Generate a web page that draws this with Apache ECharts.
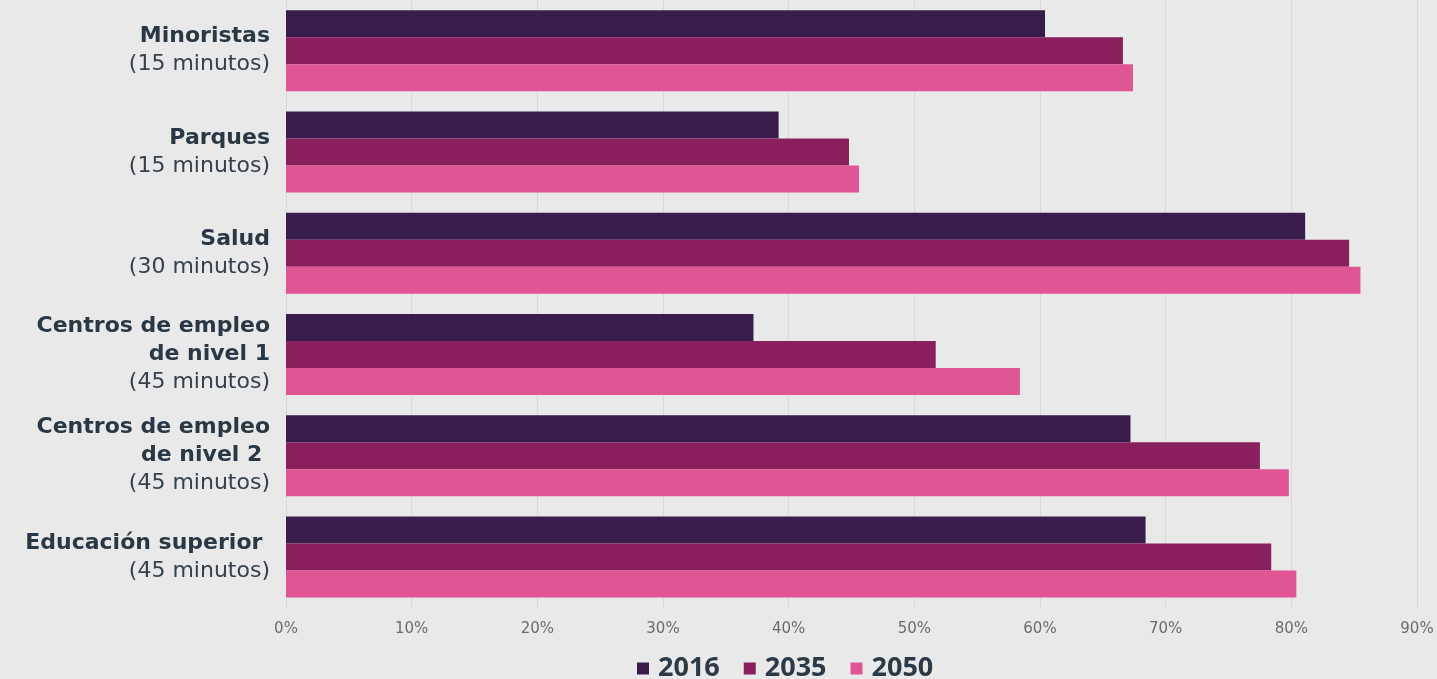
<!DOCTYPE html>
<html>
<head>
<meta charset="utf-8">
<style>
  html, body { margin: 0; padding: 0; background: #e9e9e9; }
  #chart { width: 1437px; height: 679px; }
</style>
<script src="https://cdn.jsdelivr.net/npm/echarts@6/dist/echarts.min.js"></script>
</head>
<body>
<div id="chart"></div>
<script>
// categories (bold title + travel time)
const categoryTitles = ['Minoristas', 'Parques', 'Salud', 'Centros de empleo\nde nivel 1', 'Centros de empleo\nde nivel 2 ', 'Educación superior '];
const categoryTimes = ['(15 minutos)', '(15 minutos)', '(30 minutos)', '(45 minutos)', '(45 minutos)', '(45 minutos)'];

const seriesNames = ['2016', '2035', '2050'];
const values2016 = [60.4, 39.2, 81.1, 37.2, 67.2, 68.4];
const values2035 = [66.6, 44.8, 84.6, 51.7, 77.5, 78.4];
const values2050 = [67.4, 45.6, 85.5, 58.4, 79.8, 80.4];

const MyEcharts = echarts.init(document.getElementById('chart'));

const labels = categoryTitles.map(function (t, i) {
  const bold = t.split('\n').map(function (l) { return '{b|' + l + '}'; }).join('\n');
  return bold + '\n{r|' + categoryTimes[i] + '}';
});

const option = {
  backgroundColor: '#e9e9e9',
  color: ['#381c4b', '#8a1f5e', '#e05695'],
  animation: false,
  grid: {
    left: 286,
    width: 1131,
    top: -2.5,
    height: 610
  },
  legend: {
    left: 632,
    top: 650,
    icon: 'rect',
    itemWidth: 12,
    itemHeight: 12,
    itemGap: 24,
    textStyle: {
      fontFamily: 'Open Sans',
      fontWeight: 'bold',
      fontSize: 27,
      color: '#2c3a48',
      padding: [0, 0, 0, 4]
    },
    data: seriesNames
  },
  xAxis: {
    type: 'value',
    min: 0,
    max: 90,
    interval: 10,
    axisLine: { show: false },
    axisTick: { show: false },
    splitLine: { lineStyle: { color: '#d9d9d9', width: 1 } },
    axisLabel: {
      formatter: '{value}%',
      margin: 14,
      fontFamily: 'DejaVu Sans',
      fontSize: 15,
      color: '#6b6b6b'
    }
  },
  yAxis: {
    type: 'category',
    inverse: true,
    data: labels,
    axisLine: { show: false },
    axisTick: { show: false },
    axisLabel: {
      margin: 16,
      align: 'right',
      rich: {
        b: {
          fontFamily: 'DejaVu Sans',
          fontWeight: 'bold',
          fontSize: 22,
          lineHeight: 28,
          color: '#2a3846',
          align: 'right'
        },
        r: {
          fontFamily: 'DejaVu Sans',
          fontSize: 22,
          lineHeight: 28,
          color: '#37414c',
          align: 'right'
        }
      }
    }
  },
  series: [
    { name: seriesNames[0], type: 'bar', data: values2016, barWidth: 27, barGap: '0%' },
    { name: seriesNames[1], type: 'bar', data: values2035, barWidth: 27, barGap: '0%' },
    { name: seriesNames[2], type: 'bar', data: values2050, barWidth: 27, barGap: '0%' }
  ]
};

MyEcharts.setOption(option);
window.addEventListener('resize', () => {
  MyEcharts.resize();
});
</script>
</body>
</html>
